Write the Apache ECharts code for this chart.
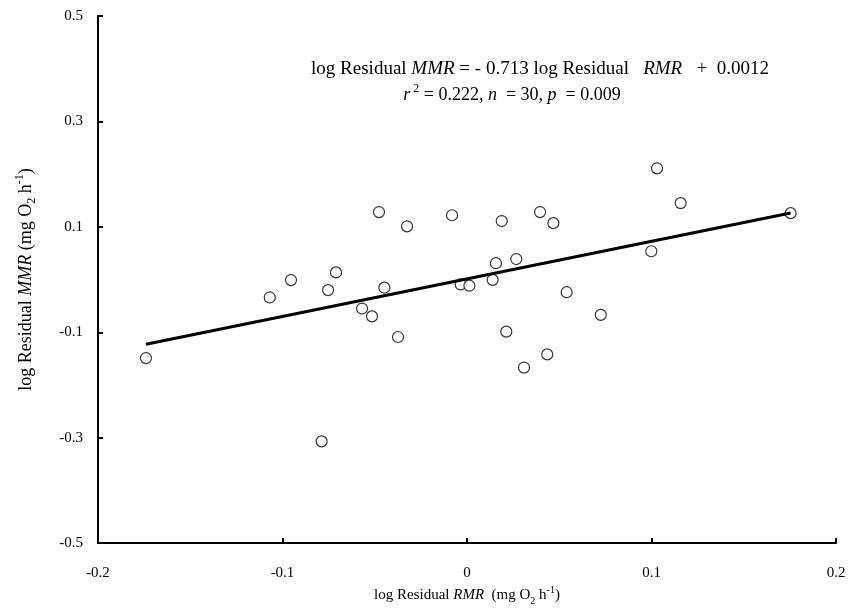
<!DOCTYPE html>
<html>
<head>
<meta charset="utf-8">
<script src="https://cdn.jsdelivr.net/npm/echarts@6/dist/echarts.min.js"></script>
<style>html,body{margin:0;padding:0;background:#fff;}#c{width:860px;height:611px;}</style>
</head>
<body>
<div id="c"></div>
<script>
// Data
var residualRMR = [-0.174, -0.1069, -0.0954, -0.0753, -0.0710, -0.0477, -0.0325, -0.0081, -0.0448, -0.0569,
                   -0.0515, -0.0374, -0.0788, -0.0034, 0.0013, 0.0139, 0.0157, 0.0267, 0.0188, 0.0396,
                   0.0468, 0.054, 0.0725, 0.0213, 0.0435, 0.0309, 0.0999, 0.103, 0.1158, 0.1754];
var residualMMR = [-0.149, -0.034, -0.001, -0.020, 0.0136, 0.128, 0.101, 0.122, -0.0154, -0.055,
                   -0.0698, -0.109, -0.307, -0.0093, -0.0117, -0.0006, 0.031, 0.0389, 0.111, 0.128,
                   0.107, -0.024, -0.067, -0.0988, -0.142, -0.167, 0.0537, 0.211, 0.145, 0.126];
var fitLineX = [-0.174, 0.1754];
var fitLineY = [-0.1229, 0.1263];
var xTicks = [-0.2, -0.1, 0, 0.1, 0.2];
var yTicks = [-0.5, -0.3, -0.1, 0.1, 0.3, 0.5];

var FONT = 'Liberation Serif';
function mkRich(fs) {
  return {
    n: {fontFamily: FONT, fontSize: fs, color: '#000', lineHeight: fs + 6},
    i: {fontFamily: FONT, fontSize: fs, color: '#000', fontStyle: 'italic', lineHeight: fs + 6},
    sup: {fontFamily: FONT, fontSize: Math.round(fs * 0.66), color: '#000', lineHeight: Math.round(fs * 0.8), verticalAlign: 'top'},
    sub: {fontFamily: FONT, fontSize: Math.round(fs * 0.66), color: '#000', lineHeight: Math.round(fs * 0.8), verticalAlign: 'bottom'}
  };
}

var scatterData = residualRMR.map(function (x, k) { return [x, residualMMR[k]]; });
var lineData = fitLineX.map(function (x, k) { return [x, fitLineY[k]]; });

var chart = echarts.init(document.getElementById('c'), null, {renderer: 'canvas'});
chart.setOption({
  backgroundColor: '#fff',
  animation: false,
  grid: {left: 98, right: 24, top: 16, bottom: 55, containLabel: false},
  xAxis: {
    type: 'value', min: -0.2, max: 0.2, interval: 0.1,
    splitLine: {show: false},
    axisLine: {onZero: false, lineStyle: {color: '#000', width: 2}},
    axisTick: {inside: true, length: 5, lineStyle: {color: '#000', width: 2}, customValues: xTicks},
    axisLabel: {fontFamily: FONT, fontSize: 15, color: '#000', margin: 22, customValues: xTicks,
      formatter: function (v) { return String(Math.round(v * 10) / 10); }},
    name: '{n|log Residual }{i|RMR}{n|  (mg O}{sub|2}{n| h}{sup|-1}{n|)}',
    nameLocation: 'middle', nameGap: 36,
    nameTextStyle: {rich: mkRich(15)}
  },
  yAxis: {
    type: 'value', min: -0.5, max: 0.5,
    splitLine: {show: false},
    axisLine: {onZero: false, lineStyle: {color: '#000', width: 2}},
    axisTick: {inside: true, length: 5, lineStyle: {color: '#000', width: 2}, customValues: yTicks},
    axisLabel: {fontFamily: FONT, fontSize: 15, color: '#000', margin: 15, customValues: yTicks,
      formatter: function (v) { return String(Math.round(v * 10) / 10); }},
    name: '{n|log Residual }{i|MMR}{n| (mg O}{sub|2}{n| h}{sup|-1}{n|)}',
    nameLocation: 'middle', nameGap: 60,
    nameTextStyle: {rich: mkRich(18)}
  },
  series: [
    {
      type: 'scatter', data: scatterData, symbol: 'circle', symbolSize: 11, z: 2,
      itemStyle: {color: '#fff', borderColor: '#000', borderWidth: 1.2}
    },
    {
      type: 'line', data: lineData, showSymbol: false, symbol: 'none', z: 3,
      lineStyle: {color: '#000', width: 3}
    }
  ],
  graphic: [
    {type: 'text', x: 540, y: 69, style: {
      text: '{n|log Residual }{i|MMR}{n| = - 0.713 log Residual   }{i|RMR}{n|   +  0.0012}',
      rich: mkRich(19), align: 'center', verticalAlign: 'middle'}},
    {type: 'text', x: 512, y: 95, style: {
      text: '{i|r}{sup| 2}{n| = 0.222, }{i|n}{n|  = 30, }{i|p}{n|  = 0.009}',
      rich: mkRich(18), align: 'center', verticalAlign: 'middle'}}
  ]
});
</script>
</body>
</html>
